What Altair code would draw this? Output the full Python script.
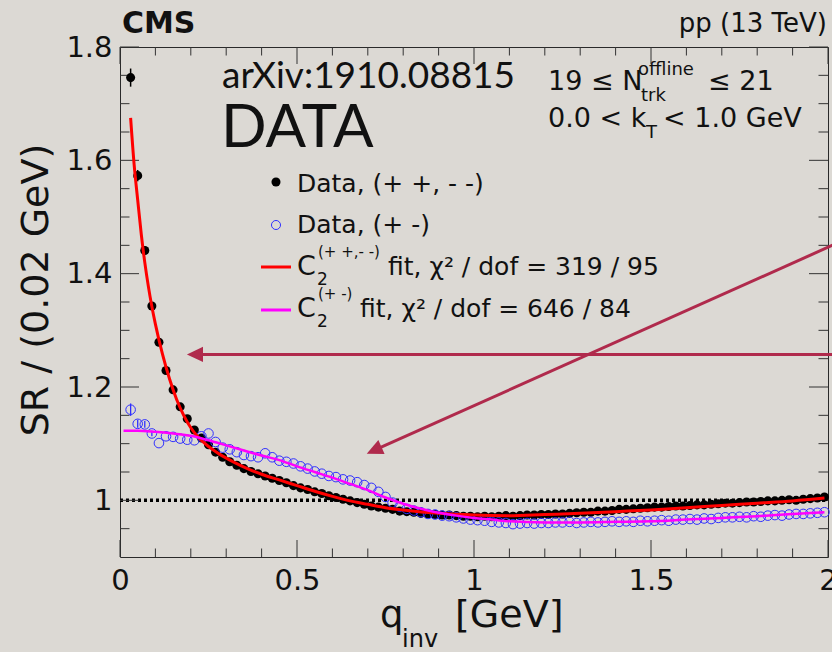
import altair as alt
import pandas as pd

# ---------------- measured single ratios, 0.02 GeV bins ----------------
BIN_WIDTH = 0.02
q_centres = [round(0.03 + BIN_WIDTH * i, 2) for i in range(99)]

# same-sign pairs (+ +, - -)
sr_same = [
    1.746, 1.573, 1.441, 1.343, 1.279, 1.229, 1.195, 1.165, 1.144, 1.124,
    1.110, 1.098, 1.085, 1.076, 1.068, 1.062, 1.056, 1.051, 1.047, 1.043,
    1.039, 1.035, 1.031, 1.026, 1.022, 1.019, 1.015, 1.012, 1.008, 1.005,
    1.002, 0.999, 0.996, 0.993, 0.990, 0.988, 0.986, 0.984, 0.981, 0.980,
    0.979, 0.977, 0.976, 0.975, 0.974, 0.974, 0.973, 0.972, 0.972, 0.971,
    0.972, 0.971, 0.972, 0.973, 0.972, 0.973, 0.974, 0.974, 0.975, 0.975,
    0.976, 0.976, 0.977, 0.978, 0.979, 0.979, 0.981, 0.981, 0.982, 0.984,
    0.984, 0.985, 0.986, 0.987, 0.988, 0.988, 0.989, 0.990, 0.990, 0.991,
    0.992, 0.992, 0.993, 0.994, 0.995, 0.995, 0.996, 0.997, 0.997, 0.998,
    0.999, 0.999, 1.000, 1.001, 1.000, 1.002, 1.003, 1.004, 1.006,
]

# opposite-sign pairs (+ -)
sr_opp = [
    1.160, 1.135, 1.134, 1.118, 1.101, 1.113, 1.112, 1.109, 1.107, 1.106,
    1.113, 1.118, 1.103, 1.093, 1.090, 1.085, 1.080, 1.078, 1.076, 1.083,
    1.076, 1.070, 1.068, 1.065, 1.060, 1.056, 1.051, 1.047, 1.043, 1.041,
    1.037, 1.035, 1.032, 1.027, 1.022, 1.015, 1.006, 0.996, 0.989, 0.985,
    0.982, 0.979, 0.976, 0.975, 0.973, 0.972, 0.970, 0.968, 0.966, 0.965,
    0.964, 0.962, 0.961, 0.960, 0.958, 0.959, 0.960, 0.959, 0.960, 0.960,
    0.961, 0.961, 0.962, 0.960, 0.961, 0.962, 0.961, 0.962, 0.963, 0.962,
    0.963, 0.962, 0.964, 0.963, 0.964, 0.965, 0.964, 0.966, 0.966, 0.967,
    0.966, 0.968, 0.967, 0.969, 0.970, 0.970, 0.971, 0.970, 0.972, 0.971,
    0.973, 0.974, 0.973, 0.975, 0.976, 0.976, 0.977, 0.978, 0.979,
]

# statistical errors of the lowest bins (larger ones hide inside the markers)
sr_same_err_low_q = [0.016, 0.010, 0.008, 0.006]
sr_opp_err_low_q = [0.011, 0.007, 0.006, 0.005]

# fitted C2 functions
fit_same_q = [0.03, 0.04, 0.05, 0.06, 0.07, 0.08, 0.09, 0.10, 0.12, 0.14,
              0.16, 0.18, 0.20, 0.22, 0.25, 0.28, 0.32, 0.36, 0.40, 0.45,
              0.50, 0.55, 0.60, 0.65, 0.70, 0.75, 0.80, 0.90, 1.00, 1.10,
              1.20, 1.30, 1.40, 1.50, 1.60, 1.70, 1.80, 1.90, 1.99]
fit_same_v = [1.675, 1.592, 1.530, 1.470, 1.420, 1.378, 1.342, 1.311, 1.258, 1.214,
              1.178, 1.150, 1.128, 1.112, 1.095, 1.082, 1.068, 1.056, 1.046, 1.036,
              1.026, 1.016, 1.007, 0.999, 0.993, 0.987, 0.983, 0.977, 0.974, 0.973,
              0.975, 0.977, 0.980, 0.983, 0.987, 0.991, 0.995, 0.999, 1.004]

fit_opp_q = [0.01, 0.05, 0.10, 0.15, 0.20, 0.25, 0.30, 0.35, 0.40, 0.45,
             0.50, 0.55, 0.60, 0.65, 0.70, 0.75, 0.80, 0.85, 0.90, 0.95,
             1.00, 1.05, 1.10, 1.20, 1.30, 1.40, 1.50, 1.60, 1.70, 1.80,
             1.90, 1.99]
fit_opp_v = [1.123, 1.123, 1.121, 1.118, 1.114, 1.106, 1.097, 1.088, 1.079, 1.071,
             1.060, 1.050, 1.040, 1.029, 1.018, 1.005, 0.994, 0.985, 0.978, 0.973,
             0.969, 0.966, 0.963, 0.961, 0.961, 0.962, 0.963, 0.966, 0.969, 0.972,
             0.976, 0.979]

ref_level = [1.0]

# axis ticks
x_major = [0, 0.5, 1, 1.5, 2]
x_minor = [0.1, 0.2, 0.3, 0.4, 0.6, 0.7, 0.8, 0.9, 1.1, 1.2, 1.3, 1.4,
           1.6, 1.7, 1.8, 1.9]
y_major = [1.0, 1.2, 1.4, 1.6, 1.8]
y_minor = [0.95, 1.05, 1.1, 1.15, 1.25, 1.3, 1.35, 1.45, 1.5, 1.55,
           1.65, 1.7, 1.75]

# annotation arrows: tip, base of head, far end (data units)
arrow_tip_q = [0.189, 0.697]
arrow_tip_v = [1.2575, 1.0824]
arrow_base_q = [0.229, 0.733]
arrow_base_v = [1.2575, 1.0924]
arrow_end_q = [2.03, 2.03]
arrow_end_v = [1.2575, 1.455]
arrow_angle = [0, 336]

# ---------------- layout ----------------
W, H = 708, 510
FONT = "DejaVu Sans"
INK = "#111111"
ARROW = "#b02a4c"

xs = alt.Scale(domain=[0, 2], nice=False, zero=False)
ys = alt.Scale(domain=[0.9, 1.8], nice=False, zero=False)
X_AX = alt.Axis(values=x_major, format="~g", title=None, grid=False, domain=False,
                ticks=False, tickSize=0, labelFont=FONT, labelFontSize=29,
                labelColor=INK, labelPadding=9, labelFlush=False, labelOverlap=False)
Y_AX = alt.Axis(values=y_major, format="~g", title=None, grid=False, domain=False,
                ticks=False, tickSize=0, labelFont=FONT, labelFontSize=29,
                labelColor=INK, labelPadding=8, labelOverlap=False)


def X(field):
    return alt.X(f"{field}:Q", scale=xs, axis=X_AX)


def Y(field):
    return alt.Y(f"{field}:Q", scale=ys, axis=Y_AX)


same_df = pd.DataFrame({"q": q_centres, "v": sr_same})
opp_df = pd.DataFrame({"q": q_centres, "v": sr_opp})
n_s, n_o = len(sr_same_err_low_q), len(sr_opp_err_low_q)
same_err_df = pd.DataFrame({
    "q": q_centres[:n_s],
    "lo": [v - e for v, e in zip(sr_same[:n_s], sr_same_err_low_q)],
    "hi": [v + e for v, e in zip(sr_same[:n_s], sr_same_err_low_q)],
})
opp_err_df = pd.DataFrame({
    "q": q_centres[:n_o],
    "lo": [v - e for v, e in zip(sr_opp[:n_o], sr_opp_err_low_q)],
    "hi": [v + e for v, e in zip(sr_opp[:n_o], sr_opp_err_low_q)],
})
fit_same_df = pd.DataFrame({"q": fit_same_q, "v": fit_same_v})
fit_opp_df = pd.DataFrame({"q": fit_opp_q, "v": fit_opp_v})
arrow_df = pd.DataFrame({
    "tq": arrow_tip_q, "tv": arrow_tip_v,
    "bq": arrow_base_q, "bv": arrow_base_v,
    "eq": arrow_end_q, "ev": arrow_end_v,
    "ang": arrow_angle,
})

layers = []

# unity reference line
layers.append(
    alt.Chart(pd.DataFrame({"v": ref_level}))
    .mark_rule(color="black", strokeWidth=3.5, strokeDash=[3, 3])
    .encode(y=Y("v"), x=alt.value(0), x2=alt.value(W))
)

# ticks pointing into the frame on all four sides
def xticks(vals, length):
    df = pd.DataFrame({"q": vals})
    bottom = alt.Chart(df).mark_rule(color="#333", strokeWidth=1).encode(
        x=X("q"), y=alt.value(H), y2=alt.value(H - length))
    top = alt.Chart(df).mark_rule(color="#333", strokeWidth=1).encode(
        x=X("q"), y=alt.value(0), y2=alt.value(length))
    return [bottom, top]


def yticks(vals, length):
    df = pd.DataFrame({"v": vals})
    left = alt.Chart(df).mark_rule(color="#333", strokeWidth=1).encode(
        y=Y("v"), x=alt.value(0), x2=alt.value(length))
    right = alt.Chart(df).mark_rule(color="#333", strokeWidth=1).encode(
        y=Y("v"), x=alt.value(W), x2=alt.value(W - length))
    return [left, right]


layers += xticks(x_major, 17) + xticks(x_minor, 8.5)
layers += yticks(y_major, 19) + yticks(y_minor, 9.5)

# data points
layers.append(
    alt.Chart(same_err_df).mark_rule(color="black", strokeWidth=1.5)
    .encode(x=X("q"), y=Y("lo"), y2="hi")
)
layers.append(
    alt.Chart(same_df).mark_circle(size=82, color="black", opacity=1)
    .encode(x=X("q"), y=Y("v"))
)
layers.append(
    alt.Chart(opp_err_df).mark_rule(color="#2f2fff", strokeWidth=1.3)
    .encode(x=X("q"), y=Y("lo"), y2="hi")
)
layers.append(
    alt.Chart(opp_df).mark_point(shape="circle", filled=False, size=92,
                                 color="#2f2fff", strokeWidth=1, opacity=1)
    .encode(x=X("q"), y=Y("v"))
)

# fits
layers.append(
    alt.Chart(fit_same_df).mark_line(color="#ff0000", strokeWidth=3, interpolate="monotone")
    .encode(x=X("q"), y=Y("v"))
)
layers.append(
    alt.Chart(fit_opp_df).mark_line(color="#ff00ff", strokeWidth=2.5, interpolate="monotone")
    .encode(x=X("q"), y=Y("v"))
)

# annotation arrows
layers.append(
    alt.Chart(arrow_df).mark_rule(color=ARROW, strokeWidth=3)
    .encode(x=X("bq"), y=Y("bv"), x2="eq", y2="ev")
)
layers.append(
    alt.Chart(arrow_df).mark_point(shape="M0,0 L2,-0.95 L2,0.95 Z", filled=True,
                                   size=260, color=ARROW, opacity=1, strokeWidth=0)
    .encode(x=X("tq"), y=Y("tv"), angle=alt.Angle("ang:Q", scale=None))
)


def note(text, x, y, size, font=FONT, weight="normal", align="left", angle=0,
         baseline="alphabetic", color=INK):
    return (
        alt.Chart(pd.DataFrame({"t": [text]}))
        .mark_text(align=align, baseline=baseline, font=font, fontSize=size,
                   fontWeight=weight, angle=angle, color=color)
        .encode(text="t:N", x=alt.value(x), y=alt.value(y))
    )


# header texts
layers.append(note("CMS", 2, -14, 30, weight="bold"))
layers.append(note("pp (13 TeV)", 707, -15, 26, align="right"))
layers.append(note("arXiv:1910.08815", 102, 41, 37, font="Lato"))
layers.append(note("DATA", 101, 100, 60, font="Lato"))

# selection
layers.append(note("19 ≤ N", 428, 43, 27))
layers.append(note("offline", 518, 28, 18))
layers.append(note("trk", 521, 54, 18))
layers.append(note("≤ 21", 588, 43, 27))
layers.append(note("0.0 < k", 428, 80, 27))
layers.append(note("T", 526, 91, 18))
layers.append(note("< 1.0 GeV", 543, 80, 27))

# legend
layers.append(
    alt.Chart(pd.DataFrame({"t": [0]})).mark_circle(size=82, color="black", opacity=1)
    .encode(x=alt.value(156), y=alt.value(135))
)
layers.append(
    alt.Chart(pd.DataFrame({"t": [0]})).mark_point(shape="circle", filled=False, size=82,
                                                   color="#2f2fff", strokeWidth=1, opacity=1)
    .encode(x=alt.value(156), y=alt.value(178))
)
layers.append(
    alt.Chart(pd.DataFrame({"t": [0]})).mark_rule(color="#ff0000", strokeWidth=3)
    .encode(x=alt.value(141), x2=alt.value(171), y=alt.value(220))
)
layers.append(
    alt.Chart(pd.DataFrame({"t": [0]})).mark_rule(color="#ff00ff", strokeWidth=3)
    .encode(x=alt.value(141), x2=alt.value(171), y=alt.value(263))
)
layers.append(note("Data, (+ +, - -)", 177, 145, 25))
layers.append(note("Data, (+ -)", 177, 186, 25))
layers.append(note("C", 177, 228, 27))
layers.append(note("2", 197, 238, 17))
layers.append(note("(+ +,- -)", 198, 210, 15))
layers.append(note("fit, χ² / dof = 319 / 95", 268, 228, 25))
layers.append(note("C", 177, 270, 27))
layers.append(note("2", 197, 280, 17))
layers.append(note("(+ -)", 198, 252, 15))
layers.append(note("fit, χ² / dof = 646 / 84", 240, 270, 25))

# axis titles
layers.append(note("SR / (0.02 GeV)", -72, 243, 38, angle=270, align="center"))
layers.append(note("q", 260, 580, 37))
layers.append(note("inv", 282, 600, 24))
layers.append(note("[GeV]", 335, 580, 38))

chart = (
    alt.layer(*layers)
    .properties(width=W, height=H, autosize="none",
                padding={"left": 120, "top": 47, "right": 4, "bottom": 95})
    .configure(background="#dcd9d4")
    .configure_view(stroke="#2a2a2a", strokeWidth=1)
)

chart.save("out.html", embed_options={"renderer": "svg", "actions": False})
